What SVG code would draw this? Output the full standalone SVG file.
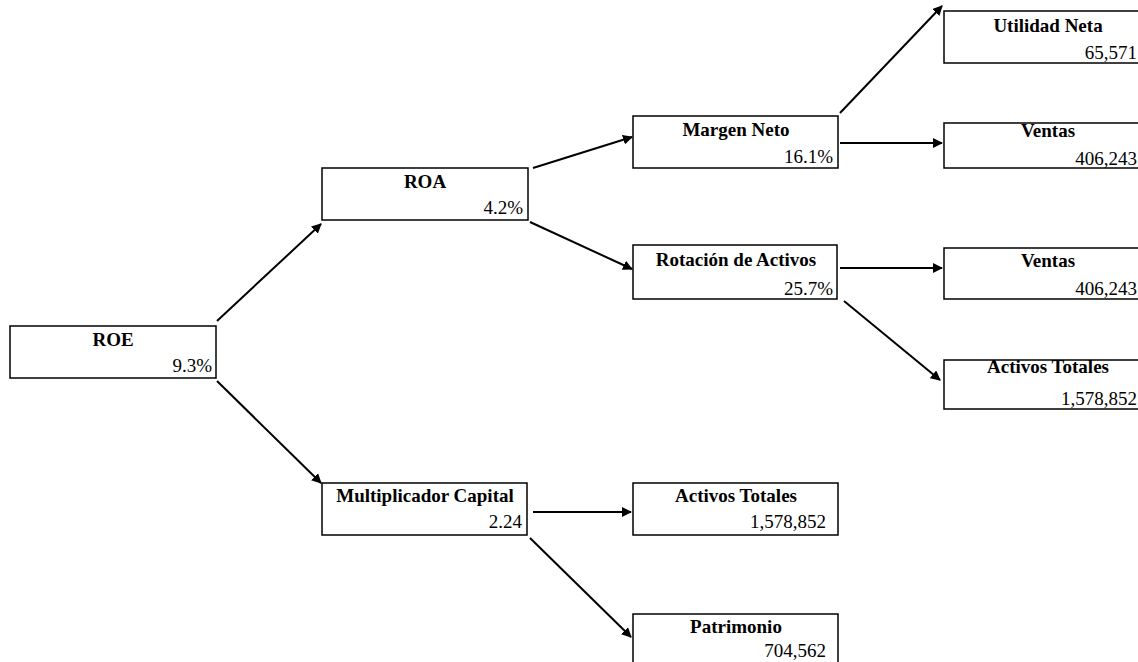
<svg xmlns="http://www.w3.org/2000/svg" width="1138" height="662" viewBox="0 0 1138 662">
<style>
.box{fill:#fff;stroke:#000;stroke-width:1.5}
.t{font-family:"Liberation Serif","Times New Roman",serif;font-size:19px;font-weight:bold;text-anchor:middle;fill:#000}
.v{font-family:"Liberation Serif","Times New Roman",serif;font-size:19px;text-anchor:end;fill:#000}
.c{stroke:#000;stroke-width:2;fill:none;marker-end:url(#ah)}
</style>
<defs>
<marker id="ah" viewBox="0 0 10 10" refX="9" refY="5" markerWidth="5" markerHeight="5" orient="auto" markerUnits="strokeWidth">
<path d="M0,0 L10,5 L0,10 z" fill="#000"/>
</marker>
</defs>
<rect width="1138" height="662" fill="#fff"/>
<g id="connectors">
<line class="c" x1="217" y1="321" x2="321" y2="224"/>
<line class="c" x1="217" y1="381" x2="321" y2="483"/>
<line class="c" x1="533" y1="168" x2="632" y2="137"/>
<line class="c" x1="530" y1="222" x2="632" y2="269"/>
<line class="c" x1="840" y1="113" x2="942" y2="6"/>
<line class="c" x1="840" y1="143" x2="942" y2="143"/>
<line class="c" x1="840" y1="268" x2="942" y2="268"/>
<line class="c" x1="844" y1="301" x2="940" y2="380"/>
<line class="c" x1="533" y1="512" x2="631" y2="512"/>
<line class="c" x1="530" y1="538" x2="631" y2="637"/>
</g>
<g id="roe"><rect class="box" x="10" y="326" width="206" height="52"/><text class="t" x="113" y="346">ROE</text><text class="v" x="212" y="372">9.3%</text></g>
<g id="roa"><rect class="box" x="322" y="168" width="206" height="52"/><text class="t" x="425" y="188">ROA</text><text class="v" x="523" y="214">4.2%</text></g>
<g id="margen"><rect class="box" x="633" y="116" width="205" height="52"/><text class="t" x="736" y="136">Margen Neto</text><text class="v" x="833" y="163">16.1%</text></g>
<g id="rotacion"><rect class="box" x="633" y="245" width="204" height="54"/><text class="t" x="736" y="266">Rotación de Activos</text><text class="v" x="833" y="295">25.7%</text></g>
<g id="multiplicador"><rect class="box" x="322" y="483" width="205" height="52"/><text class="t" x="425" y="502">Multiplicador Capital</text><text class="v" x="522" y="528">2.24</text></g>
<g id="utilidad"><rect class="box" x="944" y="11" width="200" height="52"/><text class="t" x="1048" y="32">Utilidad Neta</text><text class="v" x="1137" y="59">65,571</text></g>
<g id="ventas1"><rect class="box" x="944" y="123" width="200" height="45"/><text class="t" x="1048" y="137">Ventas</text><text class="v" x="1137" y="165">406,243</text></g>
<g id="ventas2"><rect class="box" x="944" y="248" width="200" height="51"/><text class="t" x="1048" y="267">Ventas</text><text class="v" x="1137" y="295">406,243</text></g>
<g id="activos1"><rect class="box" x="944" y="360" width="200" height="49"/><text class="t" x="1048" y="373">Activos Totales</text><text class="v" x="1137" y="405">1,578,852</text></g>
<g id="activos2"><rect class="box" x="633" y="483" width="205" height="52"/><text class="t" x="736" y="502">Activos Totales</text><text class="v" x="826" y="528">1,578,852</text></g>
<g id="patrimonio"><rect class="box" x="633" y="614" width="205" height="60"/><text class="t" x="736" y="633">Patrimonio</text><text class="v" x="826" y="657">704,562</text></g>
</svg>
